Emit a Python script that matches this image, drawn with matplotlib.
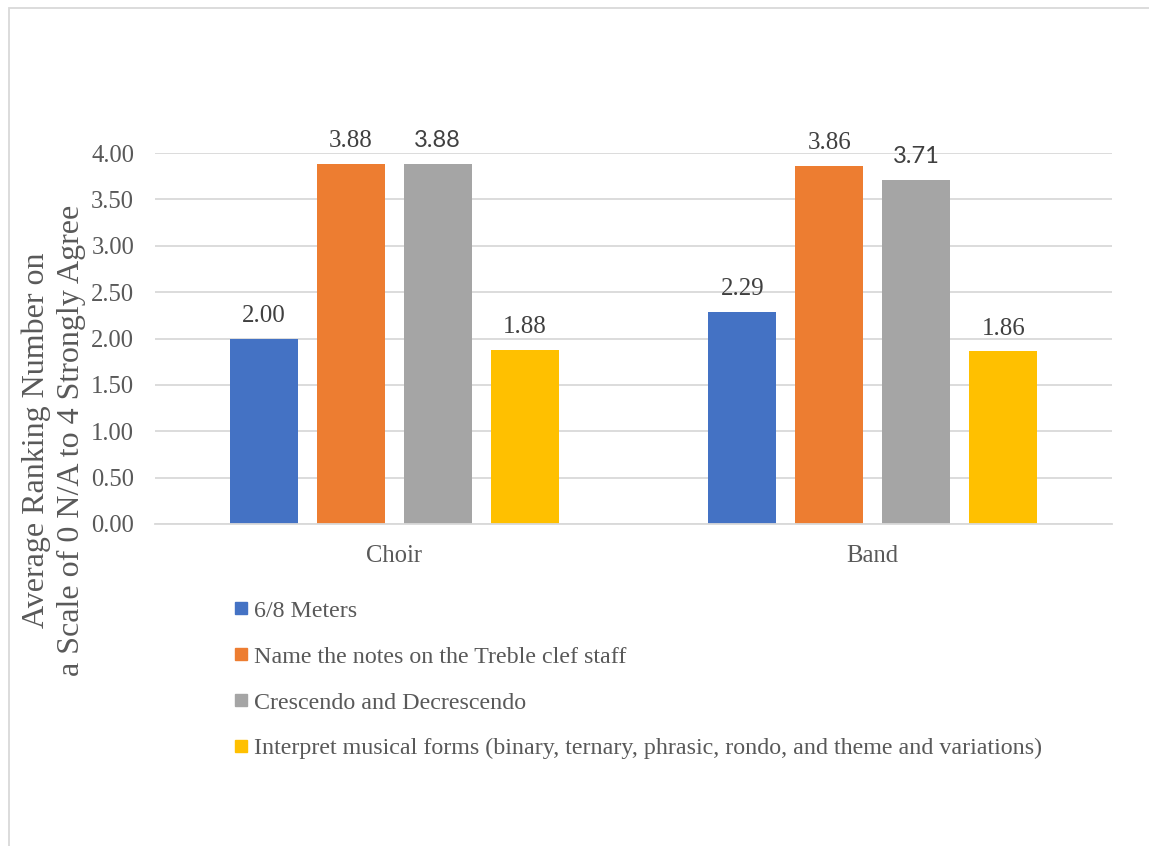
import matplotlib
matplotlib.use("Agg")
import matplotlib.pyplot as plt
import numpy as np
from matplotlib.lines import Line2D
from matplotlib.patches import Rectangle

# Data
categories = ["Choir", "Band"]
series_names = [
    "6/8 Meters",
    "Name the notes on the Treble clef staff",
    "Crescendo and Decrescendo",
    "Interpret musical forms (binary, ternary, phrasic, rondo, and theme and variations)",
]
meters = [2.00, 2.29]
treble_notes = [3.88, 3.86]
crescendo = [3.88, 3.71]
musical_forms = [1.88, 1.86]
y_ticks = [0.0, 0.5, 1.0, 1.5, 2.0, 2.5, 3.0, 3.5, 4.0]
y_label = "Average Ranking Number on\na Scale of 0 N/A to 4 Strongly Agree"

values = [meters, treble_notes, crescendo, musical_forms]
colors = ["#4472C4", "#ED7D31", "#A5A5A5", "#FFC000"]
text_color = "#595959"
grid_color = "#D9D9D9"
serif = "Liberation Serif"

W, H = 1149, 846
fig = plt.figure(figsize=(W / 100, H / 100), dpi=100)
fig.patch.set_facecolor("white")

# Outer chart border (light gray), running off the right and bottom edges
fig.add_artist(Rectangle((8.5 / W, -0.1), 1.2, 1.1 - 8.5 / H,
                         transform=fig.transFigure, fill=False,
                         edgecolor=grid_color, linewidth=1.3))

ax = fig.add_axes([155 / W, 1 - 524 / H, (1112 - 155) / W, (524 - 153) / H])

x = np.arange(len(categories))
step = 0.1818
width = 0.142
offsets = (np.arange(len(values)) - 1.5) * step

for i, (vals, col, name) in enumerate(zip(values, colors, series_names)):
    bars = ax.bar(x + offsets[i], vals, width=width, color=col, label=name, zorder=3)
    for rect, v in zip(bars, vals):
        if i == 2:
            fam, fs = ["Lato", "DejaVu Sans"], 17
        else:
            fam, fs = serif, 18
        ax.annotate(f"{v:.2f}", (rect.get_x() + rect.get_width() / 2, v),
                    xytext=(0, 12), textcoords="offset points",
                    ha="center", va="baseline", fontsize=fs,
                    color="#404040", family=fam)

ax.set_xlim(-0.5, 1.5)
ax.set_ylim(0, 4)
ax.set_yticks(y_ticks)
ax.set_yticklabels([f"{t:.2f}" for t in y_ticks], family=serif, fontsize=17.7, color=text_color)
ax.set_xticks(x)
ax.set_xticklabels(categories, family=serif, fontsize=17.7, color=text_color)
ax.tick_params(axis="both", length=0)
ax.tick_params(axis="y", pad=15)
ax.tick_params(axis="x", pad=15)
ax.grid(axis="y", color=grid_color, linewidth=1.3, zorder=0)
for side in ["top", "right", "left"]:
    ax.spines[side].set_visible(False)
ax.spines["bottom"].set_color(grid_color)
ax.spines["bottom"].set_linewidth(1.3)
ax.spines["bottom"].set_zorder(4)

fig.text(54 / W, 1 - 440 / H, y_label, rotation=90, ha="center", va="center",
         family=serif, fontsize=23, color=text_color, linespacing=1.25)

handles = [Line2D([], [], linestyle="none", marker="s", markersize=8,
                  markerfacecolor=c, markeredgecolor=c) for c in colors]
leg = fig.legend(handles, series_names, loc="upper left",
                 bbox_to_anchor=(234 / W, 1 - 600 / H),
                 frameon=False, handlelength=0.6, handletextpad=0.25,
                 labelspacing=1.0, borderaxespad=0, borderpad=0,
                 prop={"family": serif, "size": 17.3})
for t in leg.get_texts():
    t.set_color(text_color)

fig.savefig("out.png", dpi=100, facecolor="white")
